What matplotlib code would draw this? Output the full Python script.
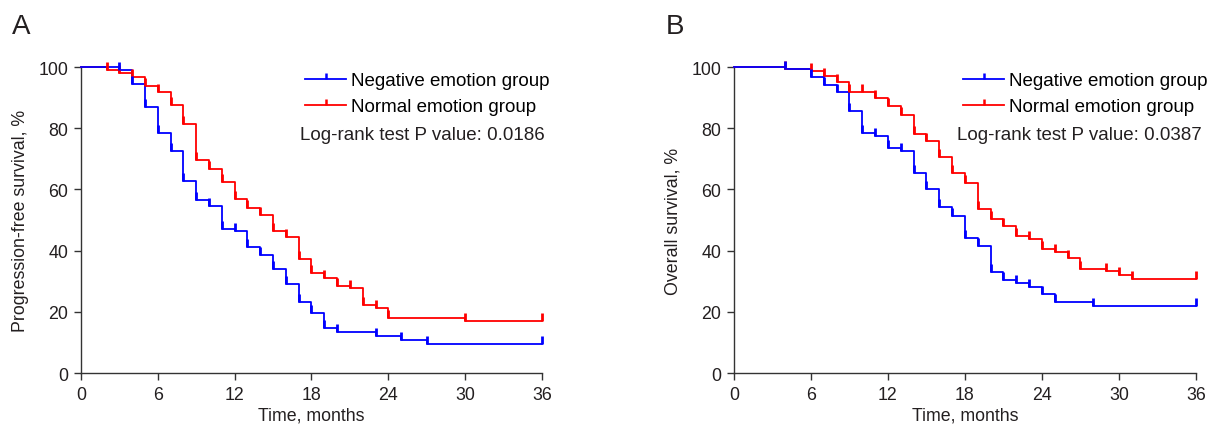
import matplotlib
matplotlib.use('Agg')
import matplotlib.pyplot as plt
from matplotlib.path import Path
from matplotlib.lines import Line2D

plt.rcParams['font.family'] = ['Liberation Sans', 'DejaVu Sans']

# panel A: progression-free survival (months, %)
pfs_neg_t = [0, 3, 4, 5, 6, 7, 8, 9, 10, 11, 12, 13, 14, 15, 16, 17, 18, 19, 20, 23, 25, 27, 36]
pfs_neg_s = [100, 99.0, 94.3, 87.0, 78.4, 72.5, 62.8, 56.7, 54.5, 47.2, 46.3, 41.3, 38.7, 34.0,
             29.1, 23.1, 19.6, 14.6, 13.3, 12.2, 10.8, 9.6, 9.6]
pfs_nor_t = [0, 2, 3, 4, 5, 6, 7, 8, 9, 10, 11, 12, 13, 14, 15, 16, 17, 18, 19, 20, 21, 22, 23, 24, 30, 36]
pfs_nor_s = [100, 99.0, 98.0, 96.8, 93.9, 91.9, 87.7, 81.4, 69.7, 66.6, 62.4, 57.0, 53.9, 51.7,
             46.5, 44.3, 37.3, 32.7, 30.9, 28.3, 27.9, 22.2, 21.1, 17.9, 17.0, 17.0]

# panel B: overall survival (months, %)
os_neg_t = [0, 4, 6, 7, 8, 9, 10, 11, 12, 13, 14, 15, 16, 17, 18, 19, 20, 21, 22, 23, 24, 25, 28, 36]
os_neg_s = [100, 99.2, 96.6, 94.1, 91.7, 85.7, 78.4, 77.3, 73.5, 72.4, 65.3, 60.1, 54.1, 51.4,
            44.1, 41.6, 32.9, 30.5, 29.4, 28.0, 25.7, 23.2, 22.0, 22.0]
os_nor_t = [0, 4, 6, 7, 8, 9, 10, 11, 12, 13, 14, 15, 16, 17, 18, 19, 20, 21, 22, 23, 24, 25,
            26, 27, 29, 30, 31, 36]
os_nor_s = [100, 99.4, 98.6, 97.0, 95.0, 91.7, 91.7, 89.9, 87.4, 84.3, 78.1, 75.7, 70.7, 65.3,
            62.1, 53.6, 50.3, 48.1, 44.9, 43.8, 40.5, 39.4, 37.5, 34.0, 33.2, 32.0, 30.7, 30.7]

panel_letters = ['A', 'B']
y_labels = ['Progression-free survival, %', 'Overall survival, %']
p_texts = ['Log-rank test P value: 0.0186', 'Log-rank test P value: 0.0387']
group_labels = ['Negative emotion group', 'Normal emotion group']
x_ticks = [0, 6, 12, 18, 24, 30, 36]
y_ticks = [0, 20, 40, 60, 80, 100]

BLUE = '#0000FF'
RED = '#FF0000'
AXIS_COLOR = '#333333'
TEXT_COLOR = '#231F20'
FS = 12.8
LEG_FS = 13.5

# censor tick: short vertical bar going up from the point
TICK = Path([(0, 0), (0, 1)])

fig = plt.figure(figsize=(12.12, 4.35), dpi=100)
ax_a = fig.add_axes([0.0668, 0.1402, 0.3804, 0.7034])
ax_b = fig.add_axes([0.6056, 0.1402, 0.3812, 0.7034])

panels = [
    (ax_a, pfs_neg_t, pfs_neg_s, pfs_nor_t, pfs_nor_s, 0.486, 0.475),
    (ax_b, os_neg_t, os_neg_s, os_nor_t, os_nor_s, 0.496, 0.483),
]

for i, (ax, nt, ns, rt, rs, leg_x, p_x) in enumerate(panels):
    for t, s, c in [(rt, rs, RED), (nt, ns, BLUE)]:
        ax.step(t, s, where='post', color=c, lw=1.3, clip_on=False, zorder=3)
        ax.plot(t[1:], s[1:], ls='none', marker=TICK, ms=11, mew=2.0,
                mec=c, clip_on=False, zorder=4)

    ax.set_xlim(0, 36)
    ax.set_ylim(0, 100)
    ax.set_xticks(x_ticks)
    ax.set_yticks(y_ticks)
    for side in ['top', 'right']:
        ax.spines[side].set_visible(False)
    for side in ['left', 'bottom']:
        ax.spines[side].set_color(AXIS_COLOR)
        ax.spines[side].set_linewidth(1.0)
    ax.tick_params(direction='out', length=5, width=1.0, color=AXIS_COLOR,
                   labelsize=FS, labelcolor=TEXT_COLOR, pad=4)
    ax.set_xlabel('Time, months', fontsize=FS, color=TEXT_COLOR, labelpad=3)
    ax.set_ylabel(y_labels[i], fontsize=FS, color=TEXT_COLOR, labelpad=7)

    handles = [Line2D([0], [0], color=c, lw=1.3, marker=TICK, ms=9, mew=1.8,
                      mec=c, markevery=[1]) for c in (BLUE, RED)]
    for h in handles:
        h.set_xdata([0, 0.5, 1])
        h.set_ydata([0, 0, 0])
    ax.legend(handles, group_labels, loc='upper left', bbox_to_anchor=(leg_x, 0.983),
              frameon=False, fontsize=LEG_FS, borderaxespad=0, borderpad=0,
              handlelength=2.2, handletextpad=0.25, labelspacing=0.48)
    ax.text(p_x, 0.779, p_texts[i], transform=ax.transAxes, fontsize=LEG_FS,
            color=TEXT_COLOR, va='center', ha='left')

fig.text(0.010, 0.968, panel_letters[0], fontsize=20, color=TEXT_COLOR, va='top')
fig.text(0.549, 0.968, panel_letters[1], fontsize=20, color=TEXT_COLOR, va='top')

fig.savefig('out.png', dpi=100)
